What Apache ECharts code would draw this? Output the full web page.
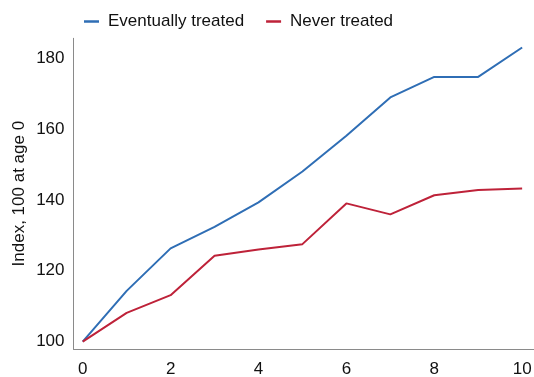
<!DOCTYPE html>
<html>
<head>
<meta charset="utf-8">
<script src="https://cdn.jsdelivr.net/npm/echarts@6/dist/echarts.min.js"></script>
<style>html,body{margin:0;padding:0;background:#fff}#c{width:534px;height:377px}</style>
</head>
<body>
<div id="c"></div>
<script>
const ages = [0,1,2,3,4,5,6,7,8,9,10];
const eventuallyTreated = [100,114.3,126.3,132.4,139.3,148.0,158.1,168.9,174.7,174.7,183.0];
const neverTreated = [100,108.1,113.1,124.2,126.0,127.5,139.0,135.9,141.3,142.8,143.2];
const seriesNames = ['Eventually treated','Never treated'];
const yAxisTitle = 'Index, 100 at age 0';

const font = 'Liberation Sans, Arial, sans-serif';
const chart = echarts.init(document.getElementById('c'));
chart.setOption({
  animation:false,
  textStyle:{fontFamily:font},
  legend:{
    top:13, left:84, padding:0, itemGap:22, itemWidth:15, itemHeight:2.5, icon:'rect',
    textStyle:{fontSize:17,color:'#111',fontFamily:font,padding:[0,0,0,4]},
    data:seriesNames
  },
  grid:{left:73.5,right:0,top:38.3,bottom:28,containLabel:false,outerBoundsMode:'none'},
  xAxis:{
    type:'value', min:-0.21, max:10.27, splitNumber:5,
    axisLine:{onZero:false,lineStyle:{color:'#8a8a8a',width:1}},
    axisTick:{show:false}, splitLine:{show:false},
    axisLabel:{showMinLabel:false,showMaxLabel:false,fontSize:17,color:'#111',margin:12,fontFamily:font}
  },
  yAxis:{
    type:'value', min:97.9, max:185.6, splitNumber:4,
    name:yAxisTitle, nameLocation:'middle', nameGap:46, nameRotate:90, nameMoveOverlap:false,
    nameTextStyle:{fontSize:17,color:'#111',fontFamily:font},
    axisLine:{show:true,onZero:false,lineStyle:{color:'#8a8a8a',width:1}},
    axisTick:{show:false}, splitLine:{show:false},
    axisLabel:{showMinLabel:false,showMaxLabel:false,fontSize:17,color:'#111',margin:9,fontFamily:font}
  },
  series:[
    {name:seriesNames[0],type:'line',data:ages.map((a,i)=>[a,eventuallyTreated[i]]),symbol:'none',lineStyle:{width:2,color:'#2F6EB5'},itemStyle:{color:'#2F6EB5'}},
    {name:seriesNames[1],type:'line',data:ages.map((a,i)=>[a,neverTreated[i]]),symbol:'none',lineStyle:{width:2,color:'#BE2239'},itemStyle:{color:'#BE2239'}}
  ]
});
</script>
</body>
</html>
